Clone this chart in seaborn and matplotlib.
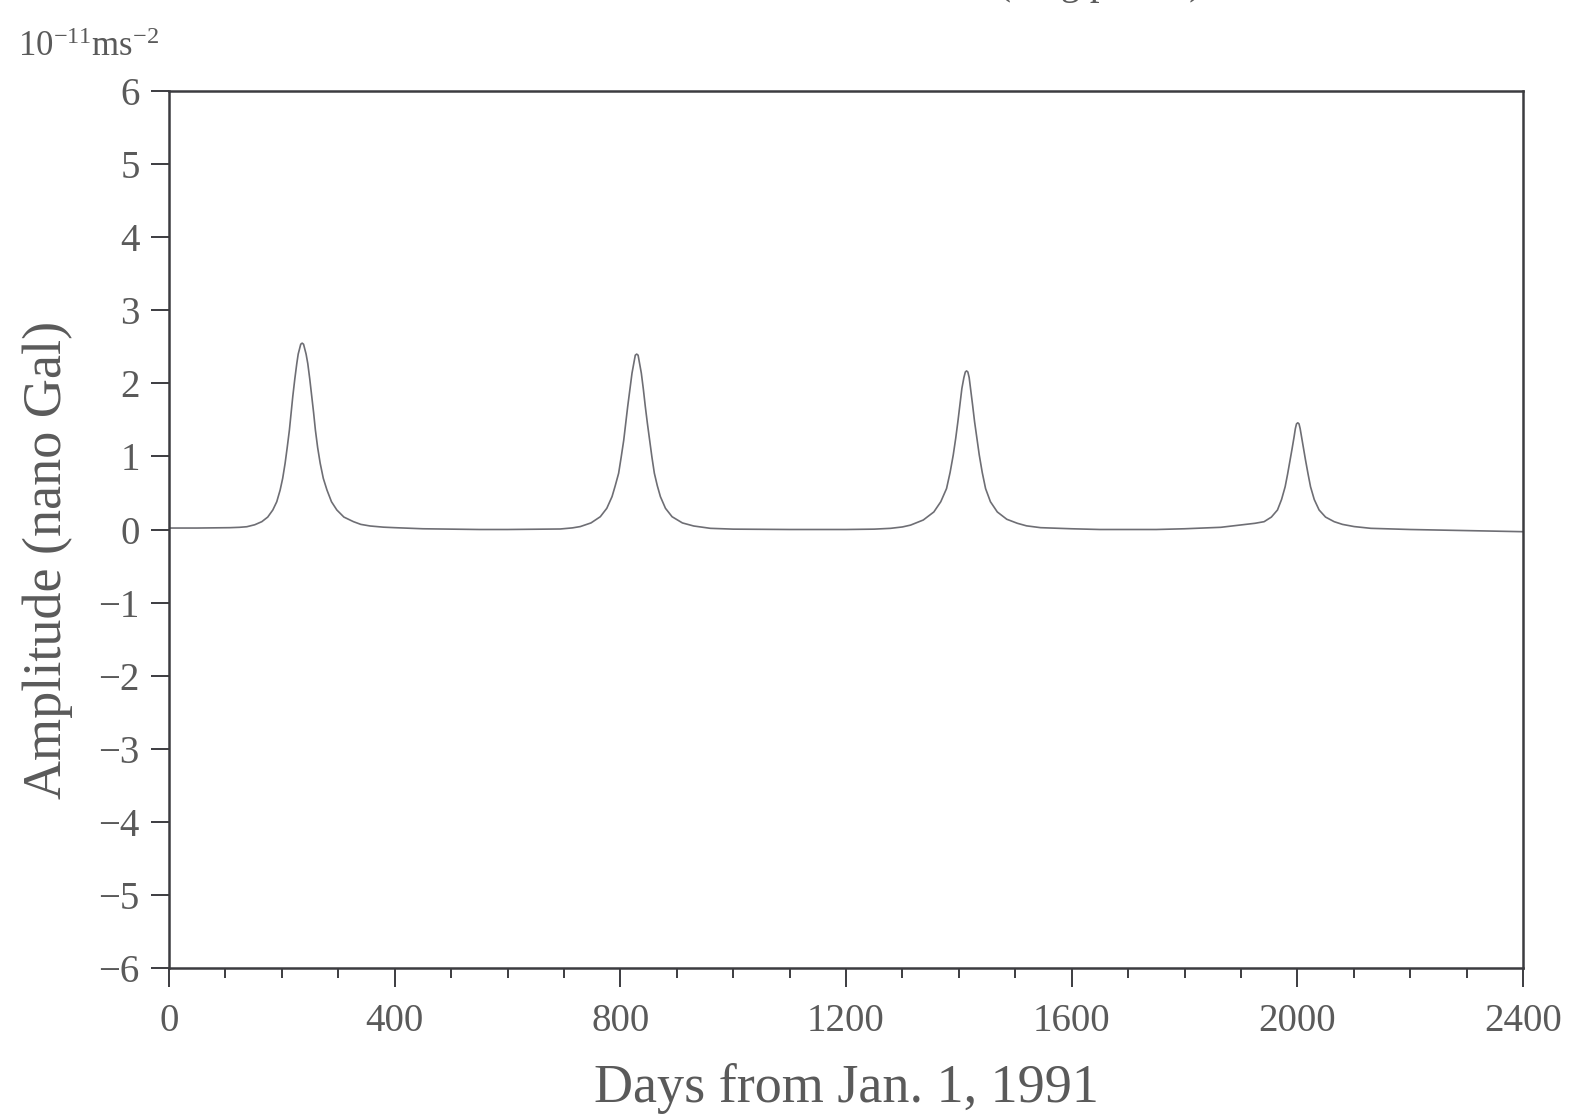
import matplotlib
matplotlib.use("Agg")
import matplotlib.pyplot as plt
from matplotlib.ticker import MultipleLocator
import pandas as pd
import seaborn as sns

# Days since 1991-01-01 and the long-period amplitude (nano Gal)
days = [
    0, 50, 108, 125, 138, 152, 164.5, 175, 184, 191, 197, 201.5, 205.8, 209.5,
    213.4, 216.5, 219.4, 223, 226.5, 229, 233.5, 236, 238.5, 243, 246, 249.5,
    253, 256.3, 259.5, 263.5, 268, 273.5, 280, 288, 297.5, 310, 327, 340,
    356.5, 380, 400, 450, 500, 550, 600, 650, 693.6, 715, 729, 748, 764.5,
    776, 785.3, 791, 797, 801.5, 806, 809.5, 813, 817, 820.7, 824.5, 826.5,
    829, 831.5, 833.5, 837.2, 840.8, 844.3, 848, 852, 856, 860.3, 865.5, 871,
    880, 891.7, 910, 930, 959.6, 1000, 1100, 1200, 1250, 1279, 1300, 1314.4,
    1337, 1355.7, 1368, 1378.2, 1384.5, 1390.1, 1394.5, 1398.3, 1402, 1405.4,
    1409, 1411.5, 1413.7, 1416, 1418.3, 1420.8, 1424.3, 1427.9, 1432, 1436.2,
    1441.5, 1447.4, 1456, 1468.2, 1485, 1503.7, 1520, 1545, 1600, 1650, 1700,
    1750, 1800, 1864.3, 1899.7, 1925, 1941.1, 1954, 1964.8, 1972, 1978.4,
    1982.8, 1987.2, 1990.8, 1994.3, 1996.5, 1998.5, 2000.8, 2003, 2005, 2007.4,
    2011, 2014.5, 2019, 2023.4, 2030, 2038.6, 2050, 2065.3, 2080, 2100.7,
    2130.3, 2200, 2300, 2400,
]
amplitude = [
    0.02, 0.02, 0.025, 0.03, 0.038, 0.065, 0.107, 0.17, 0.267, 0.38, 0.54,
    0.70, 0.906, 1.12, 1.36, 1.60, 1.82, 2.06, 2.27, 2.40, 2.535, 2.55, 2.535,
    2.40, 2.27, 2.06, 1.82, 1.60, 1.36, 1.12, 0.906, 0.70, 0.54, 0.38, 0.267,
    0.17, 0.107, 0.07, 0.048, 0.032, 0.025, 0.01, 0.005, 0.0, 0.0, 0.003,
    0.007, 0.022, 0.04, 0.09, 0.175, 0.29, 0.45, 0.60, 0.77, 0.99, 1.22, 1.45,
    1.68, 1.92, 2.14, 2.30, 2.385, 2.40, 2.385, 2.30, 2.14, 1.92, 1.68, 1.45,
    1.22, 0.99, 0.77, 0.60, 0.45, 0.29, 0.175, 0.09, 0.048, 0.016, 0.005, 0.0,
    0.0, 0.005, 0.016, 0.035, 0.06, 0.13, 0.24, 0.38, 0.56, 0.78, 1.02, 1.25,
    1.475, 1.71, 1.93, 2.08, 2.155, 2.17, 2.155, 2.08, 1.93, 1.71, 1.475, 1.25,
    1.02, 0.78, 0.56, 0.38, 0.24, 0.14, 0.085, 0.05, 0.025, 0.01, 0.0, 0.0,
    0.0, 0.01, 0.03, 0.062, 0.085, 0.107, 0.17, 0.267, 0.41, 0.585, 0.76, 0.95,
    1.11, 1.27, 1.38, 1.445, 1.46, 1.445, 1.38, 1.27, 1.11, 0.95, 0.76, 0.585,
    0.41, 0.267, 0.17, 0.107, 0.07, 0.04, 0.016, 0.0, -0.015, -0.03,
]

x_ticks = [0, 400, 800, 1200, 1600, 2000, 2400]
y_ticks = [-6, -5, -4, -3, -2, -1, 0, 1, 2, 3, 4, 5, 6]

df = pd.DataFrame({"day": days, "amp": amplitude})

sns.set_style("ticks")
plt.rcParams["font.family"] = ["Liberation Serif", "DejaVu Serif"]
plt.rcParams["mathtext.default"] = "regular"

text_col = "#5a5a5a"
spine_col = "#3c3c40"

W, H = 1572, 1117
fig = plt.figure(figsize=(W / 100, H / 100), dpi=100)
ax_left, ax_right, ax_top, ax_bottom = 169, 1523, 91, 968
ax = fig.add_axes([ax_left / W, 1 - ax_bottom / H,
                   (ax_right - ax_left) / W, (ax_bottom - ax_top) / H])

sns.lineplot(data=df, x="day", y="amp", ax=ax, color="#6e6e74", linewidth=1.2)

ax.set_xlim(0, 2400)
ax.set_ylim(-6, 6)
ax.set_xticks(x_ticks)
ax.set_yticks(y_ticks)
ax.xaxis.set_minor_locator(MultipleLocator(100))

for side in ["left", "right", "top", "bottom"]:
    ax.spines[side].set_visible(True)
    ax.spines[side].set_color(spine_col)
    ax.spines[side].set_linewidth(1.8)

ax.tick_params(axis="x", which="major", direction="out", length=14, width=1.4,
               color=spine_col, labelsize=28, labelcolor=text_col, pad=11)
ax.tick_params(axis="x", which="minor", direction="out", length=7, width=1.4,
               color=spine_col)
ax.tick_params(axis="y", which="major", direction="out", length=13, width=1.4,
               color=spine_col, labelsize=28, labelcolor=text_col, pad=8)

# axis titles placed by their baselines
ax_h = ax_bottom - ax_top
ax.set_xlabel("Days from Jan. 1, 1991", fontsize=39, color=text_col)
ax.xaxis.set_label_coords(0.5, -(1102 - ax_bottom) / ax_h)
ax.xaxis.label.set_va("baseline")
ax.set_ylabel("Amplitude (nano Gal)", fontsize=39, color=text_col)
ax.yaxis.set_label_coords(-0.071, 0.465)

fig.text(18 / W, 1 - 56 / H, r"$10^{-11}$ms$^{-2}$", fontsize=25,
         color=text_col, ha="left", va="baseline")
fig.text(1100 / W, 1 + 6 / H, "(long period)", fontsize=28,
         color=text_col, ha="center", va="baseline")

fig.savefig("out.png", dpi=100, facecolor="white")
